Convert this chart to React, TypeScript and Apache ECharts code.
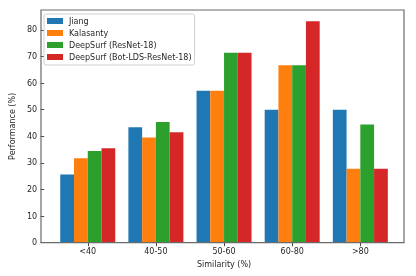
import React, { useEffect, useRef } from "react";
import * as echarts from "echarts";

const categories = ["<40", "40-50", "50-60", "60-80", ">80"];
const seriesNames = ["Jiang", "Kalasanty", "DeepSurf (ResNet-18)", "DeepSurf (Bot-LDS-ResNet-18)"];
const jiang = [25.6, 43.4, 57.1, 50.0, 50.0];
const kalasanty = [31.8, 39.6, 57.1, 66.7, 27.8];
const deepSurf = [34.5, 45.4, 71.4, 66.7, 44.4];
const deepSurfBot = [35.5, 41.5, 71.4, 83.3, 27.8];
const colors = ["#1f77b4", "#ff7f0e", "#2ca02c", "#d62728"];
const yMin = 0;
const yMax = 87.5;
const yInterval = 10;

export default function App() {
  const ref = useRef<HTMLDivElement>(null);
  useEffect(() => {
    if (!ref.current) return;
    const chart = echarts.init(ref.current, undefined, { renderer: "svg" });
    const font = "DejaVu Sans";
    const textColor = "#262626";
    const values = [jiang, kalasanty, deepSurf, deepSurfBot];
    chart.setOption({
      animation: false,
      textStyle: { fontFamily: font },
      grid: { left: 50.6, right: 21.6, top: 10, bottom: 33.3, containLabel: false },
      graphic: [
        {
          type: "rect",
          shape: { x: 41, y: 10, width: 363, height: 232.7 },
          style: { fill: "none", stroke: "#6a6a6a", lineWidth: 1.2 },
          z: 10,
        },
      ],
      legend: {
        orient: "vertical",
        left: 44,
        top: 14,
        icon: "rect",
        itemWidth: 16,
        itemHeight: 6,
        itemGap: 2,
        padding: [2, 3, 3, 3],
        backgroundColor: "rgba(255,255,255,0.85)",
        borderColor: "#d0d0d0",
        borderWidth: 1,
        borderRadius: 2,
        textStyle: { fontFamily: font, fontSize: 8, color: textColor, lineHeight: 10, padding: [0, 0, 0, 1] },
        data: seriesNames,
      },
      xAxis: {
        type: "category",
        data: categories,
        axisLine: { show: false },
        axisTick: { show: true, alignWithLabel: true, length: 3.5, lineStyle: { color: "#444" } },
        axisLabel: { fontFamily: font, fontSize: 8, color: textColor, margin: 5 },
        splitLine: { show: false },
        name: "Similarity (%)",
        nameLocation: "middle",
        nameGap: 16.5,
        nameTextStyle: { fontFamily: font, fontSize: 8, color: textColor },
      },
      yAxis: {
        type: "value",
        min: yMin,
        max: yMax,
        interval: yInterval,
        offset: 9.6,
        axisLine: { show: false },
        axisTick: { show: true, length: 3.5, lineStyle: { color: "#444" } },
        axisLabel: {
          fontFamily: font,
          fontSize: 8,
          color: textColor,
          margin: 7,
          showMaxLabel: false,
          formatter: (v: number) => (v % 10 === 0 ? String(v) : ""),
        },
        splitLine: { show: false },
        name: "Performance (%)",
        nameLocation: "middle",
        nameGap: 15,
        nameTextStyle: { fontFamily: font, fontSize: 8, color: textColor },
      },
      series: seriesNames.map((name, i) => ({
        name,
        type: "bar",
        data: values[i],
        barWidth: 13.75,
        barGap: "0%",
        itemStyle: { color: colors[i] },
      })),
    });
    return () => chart.dispose();
  }, []);
  return <div ref={ref} style={{ position: "fixed", left: 0, top: 0, width: 416, height: 276 }} />;
}
